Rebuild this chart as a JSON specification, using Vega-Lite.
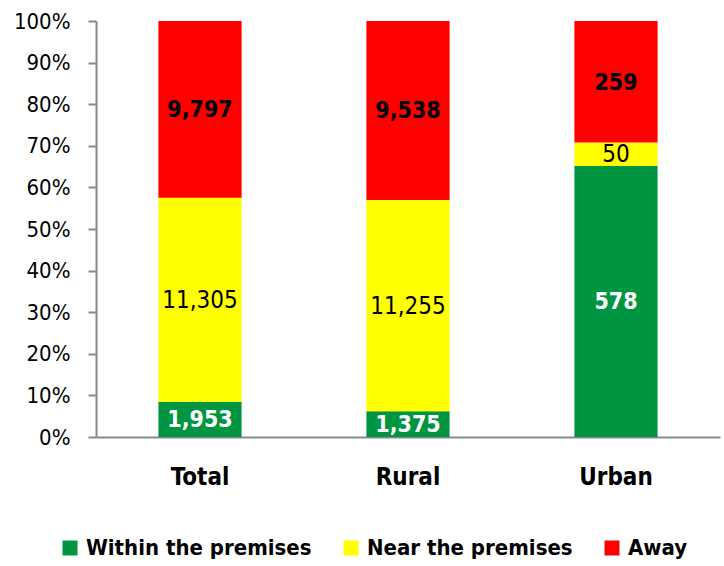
{
  "$schema": "https://vega.github.io/schema/vega-lite/v6.json",
  "width": 624,
  "height": 416,
  "autosize": {"type": "none"},
  "padding": {"left": 96, "top": 21, "right": 4, "bottom": 129},
  "background": "white",
  "config": {"view": {"stroke": null}},
  "data": {"values": [
    {"area": "Total", "type": "Within the premises", "value": 1953},
    {"area": "Total", "type": "Near the premises", "value": 11305},
    {"area": "Total", "type": "Away", "value": 9797},
    {"area": "Rural", "type": "Within the premises", "value": 1375},
    {"area": "Rural", "type": "Near the premises", "value": 11255},
    {"area": "Rural", "type": "Away", "value": 9538},
    {"area": "Urban", "type": "Within the premises", "value": 578},
    {"area": "Urban", "type": "Near the premises", "value": 50},
    {"area": "Urban", "type": "Away", "value": 259}
  ]},
  "transform": [
    {"stack": "value", "groupby": ["area"], "sort": [{"field": "type", "order": "descending"}], "offset": "normalize", "as": ["y0", "y1"]},
    {"calculate": "(datum.y0 + datum.y1) / 2", "as": "ymid"}
  ],
  "encoding": {
    "x": {
      "field": "area", "type": "nominal", "sort": ["Total", "Rural", "Urban"],
      "scale": {"paddingInner": 0.6, "paddingOuter": 0.3},
      "axis": {
        "title": null, "labelAngle": 0, "ticks": false,
        "domainColor": "#898989", "domainWidth": 2,
        "labelFont": "DejaVu Sans Condensed, sans-serif",
        "labelFontSize": 24, "labelFontWeight": "bold", "labelColor": "#000000",
        "labelPadding": 28
      }
    }
  },
  "layer": [
    {
      "mark": {"type": "bar"},
      "encoding": {
        "y": {
          "field": "y0", "type": "quantitative",
          "scale": {"domain": [0, 1]},
          "axis": {
            "title": null, "format": ".0%", "values": [0, 0.1, 0.2, 0.3, 0.4, 0.5, 0.6, 0.7, 0.8, 0.9, 1],
            "grid": false, "domainColor": "#898989", "domainWidth": 2,
            "tickColor": "#898989", "tickWidth": 2, "tickSize": 8,
            "labelFont": "DejaVu Sans Condensed, sans-serif",
            "labelFontSize": 22, "labelColor": "#000000", "labelPadding": 18
          }
        },
        "y2": {"field": "y1"},
        "color": {
          "field": "type", "type": "nominal",
          "scale": {"domain": ["Within the premises", "Near the premises", "Away"], "range": ["#009540", "#FFFF00", "#FF0000"]},
          "legend": {
            "title": null, "orient": "none", "legendX": -37, "legendY": 516,
            "direction": "horizontal", "symbolType": "square", "symbolSize": 225,
            "symbolStrokeWidth": 0, "symbolOpacity": 1,
            "labelFont": "DejaVu Sans Condensed, sans-serif",
            "labelFontSize": 22, "labelFontWeight": "bold", "labelColor": "#000000",
            "labelOffset": 5, "columnPadding": 28, "labelLimit": 400
          }
        }
      }
    },
    {
      "transform": [{"filter": "datum.type !== 'Near the premises'"}],
      "mark": {"type": "text", "fontWeight": "bold", "fontSize": 23, "baseline": "middle", "dy": 1, "font": "DejaVu Sans Condensed, sans-serif"},
      "encoding": {
        "y": {"field": "ymid", "type": "quantitative"},
        "text": {"field": "value", "type": "quantitative", "format": ","},
        "color": {"condition": {"test": "datum.type === 'Within the premises'", "value": "#FFFFFF"}, "value": "#000000"}
      }
    },
    {
      "transform": [{"filter": "datum.type === 'Near the premises'"}],
      "mark": {"type": "text", "fontSize": 24, "baseline": "middle", "dy": 1, "color": "#000000", "font": "DejaVu Sans Condensed, sans-serif"},
      "encoding": {
        "y": {"field": "ymid", "type": "quantitative"},
        "text": {"field": "value", "type": "quantitative", "format": ","}
      }
    }
  ]
}
